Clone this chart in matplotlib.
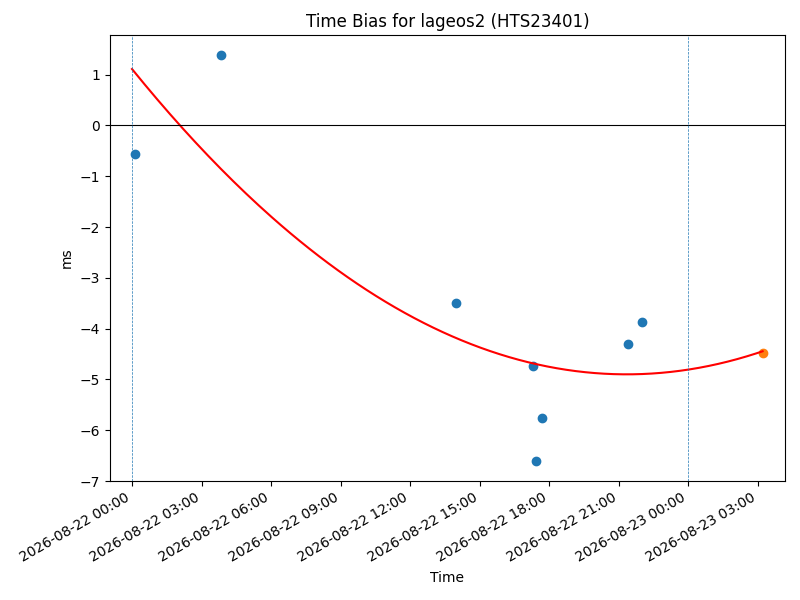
import numpy as np
import pandas as pd
import matplotlib
matplotlib.use('Agg')
import matplotlib.pyplot as plt
import matplotlib.dates as mdates

t0 = pd.Timestamp('2026-08-22 00:00')
t1 = pd.Timestamp('2026-08-23 00:00')

obs_times = pd.to_datetime(['2026-08-22 00:08', '2026-08-22 03:51', '2026-08-22 14:00',
                            '2026-08-22 17:19', '2026-08-22 17:26', '2026-08-22 17:42',
                            '2026-08-22 21:25', '2026-08-22 22:01'])
obs_bias = [-0.57, 1.38, -3.50, -4.74, -6.61, -5.76, -4.30, -3.87]

pred_time = pd.Timestamp('2026-08-23 03:13')
pred_bias = -4.48

# quadratic fit, hours since t0 -> ms
fit_coef = [0.013185, -0.5630, 1.11]

hours = np.linspace(0, (pred_time - t0) / pd.Timedelta(hours=1), 200)
fit_times = t0 + pd.to_timedelta(hours, unit='h')
fit_vals = np.polyval(fit_coef, hours)

fig, ax = plt.subplots(figsize=(8, 6), dpi=100)
ax.plot(fit_times, fit_vals, color='red')
ax.scatter(obs_times, obs_bias)
ax.scatter([pred_time], [pred_bias])
ax.axhline(0, color='black', linewidth=0.8)
ax.axvline(t0, linestyle='--', linewidth=0.5)
ax.axvline(t1, linestyle='--', linewidth=0.5)

ax.set_xlim(t0 - pd.Timedelta(minutes=57), t0 + pd.Timedelta(minutes=1691))
ax.set_ylim(-7.0, 1.78)
ax.xaxis.set_major_locator(mdates.HourLocator(byhour=range(0, 24, 3)))
ax.xaxis.set_major_formatter(mdates.DateFormatter('%Y-%m-%d %H:%M'))
ax.set_title('Time Bias for lageos2 (HTS23401)')
ax.set_xlabel('Time')
ax.set_ylabel('ms')
fig.autofmt_xdate()
fig.subplots_adjust(left=0.1375, right=0.98125, top=0.9417, bottom=0.1983)
fig.savefig('out.png')
